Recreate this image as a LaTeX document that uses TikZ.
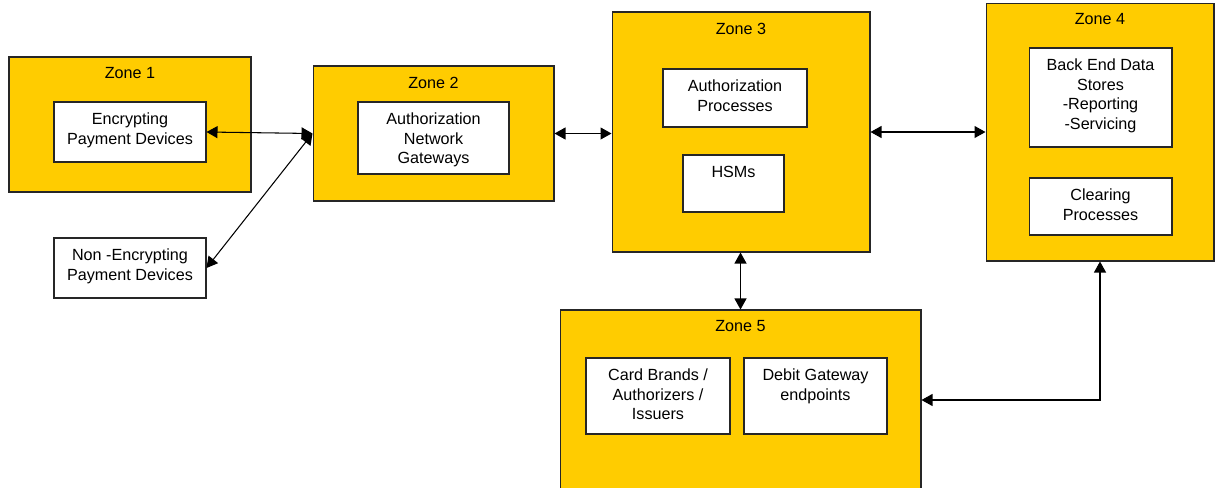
\documentclass[tikz,border=0pt]{standalone}
\usepackage{fontspec}
\setmainfont{Liberation Sans}
\usetikzlibrary{arrows.meta,positioning}
\definecolor{zonegold}{HTML}{FFCC00}

\begin{document}
\begin{tikzpicture}[x=0.02cm, y=-0.02cm,
    zone/.style={draw=black!85, line width=0.6pt, fill=zonegold, inner sep=0pt},
    box/.style={draw=black!85, line width=0.6pt, fill=white, inner sep=0pt},
    txt/.style={anchor=north, yshift=-2.9pt, align=center, font=\fontsize{9.2}{11.2}\selectfont},
    arrow/.style={{Triangle[length=2.2mm,width=2.4mm]}-{Triangle[length=2.2mm,width=2.4mm]}, line width=0.6pt, color=black}]

    \useasboundingbox (0,0) rectangle (1216,487);
    \clip (0,0) rectangle (1216,487);

    % zones
    \node (z1) [zone, minimum width=4.84cm, minimum height=2.7cm, label={[txt]north:Zone 1}] at (130,124.5) {};
    \node (z2) [zone, minimum width=4.82cm, minimum height=2.7cm, label={[txt]north:Zone 2}] at (433.5,133.5) {};
    \node (z3) [zone, minimum width=5.16cm, minimum height=4.8cm, label={[txt]north:Zone 3}] at (741,132) {};
    \node (z4) [zone, minimum width=4.56cm, minimum height=5.16cm, label={[txt]north:Zone 4}] at (1100,132) {};
    \node (z5) [zone, minimum width=7.22cm, minimum height=3.6cm, label={[txt]north:Zone 5}] at (740.5,400) {};

    % boxes
    \node (enc) [box, minimum width=3.04cm, minimum height=1.2cm, label={[txt]north:Encrypting\\Payment Devices}] at (130,132) {};
    \node (nonenc) [box, minimum width=3.04cm, minimum height=1.2cm, label={[txt]north:Non -Encrypting\\Payment Devices}] at (130,268) {};
    \node (gw) [box, minimum width=3.02cm, minimum height=1.44cm, label={[txt]north:Authorization\\Network\\Gateways}] at (433.5,138) {};
    \node (authp) [box, minimum width=2.88cm, minimum height=1.16cm, label={[txt]north:Authorization\\Processes}] at (735,98) {};
    \node (hsm) [box, minimum width=2.02cm, minimum height=1.14cm, label={[txt]north:HSMs}] at (733.5,183.5) {};
    \node (stores) [box, minimum width=2.86cm, minimum height=1.98cm, label={[txt]north:Back End Data\\Stores\\-Reporting\\-Servicing}] at (1100.5,97.5) {};
    \node (clear) [box, minimum width=2.86cm, minimum height=1.14cm, label={[txt]north:Clearing\\Processes}] at (1100.5,206.5) {};
    \node (brands) [box, minimum width=2.88cm, minimum height=1.52cm, label={[txt]north:Card Brands /\\Authorizers /\\Issuers}] at (658,396) {};
    \node (debit) [box, minimum width=2.86cm, minimum height=1.52cm, label={[txt]north:Debit Gateway\\endpoints}] at (815.5,396) {};

    % connectors
    \draw [arrow] (enc.east) -- (z2.west);
    \draw [arrow] (nonenc.east) -- (z2.west);
    \draw [arrow] (z2.east) -- (z2.east -| z3.west);
    \draw [arrow] (z3.east) -- (z4.west);
    \draw [arrow] (z5.north |- z3.south) -- (z5.north);
    \draw [arrow] (z5.east) -| (z4.south);
\end{tikzpicture}
\end{document}
